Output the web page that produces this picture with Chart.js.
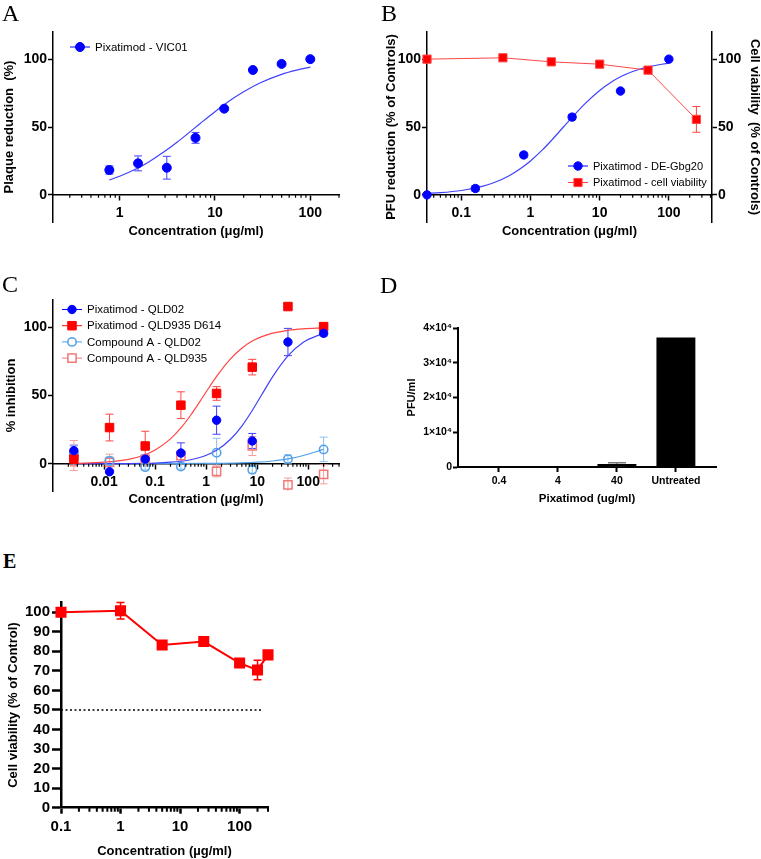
<!DOCTYPE html>
<html>
<head>
<meta charset="utf-8">
<title>Pixatimod antiviral activity</title>
<script src="https://cdn.jsdelivr.net/npm/chart.js@4.4.1/dist/chart.umd.min.js"></script>
<style>
  html, body { margin: 0; padding: 0; background: #fff; }
  #page { position: relative; width: 761px; height: 859px; overflow: hidden; }
  canvas { position: absolute; }
  .tag { position: absolute; font-family: 'Liberation Serif', 'Times New Roman', serif; font-size: 24px; line-height: 1; color: #000; }
</style>
</head>
<body>
<div id="page">
  <canvas id="chartA" width="380" height="270" style="left:0;top:0"></canvas>
  <canvas id="chartB" width="381" height="270" style="left:380px;top:0"></canvas>
  <canvas id="chartC" width="380" height="269" style="left:0;top:270px"></canvas>
  <canvas id="chartD" width="381" height="215" style="left:380px;top:300px"></canvas>
  <canvas id="chartE" width="380" height="279" style="left:0;top:580px"></canvas>
  <div class="tag" style="left:2px;top:1px">A</div>
  <div class="tag" style="left:381px;top:1px">B</div>
  <div class="tag" style="left:2px;top:272px">C</div>
  <div class="tag" style="left:380px;top:273px">D</div>
  <div class="tag" style="left:3px;top:551px;font-size:20px;font-weight:bold">E</div>
</div>
<script>
// A - plaque reduction, VIC01
const concA = [0.78, 1.56, 3.125, 6.25, 12.5, 25, 50, 100];
const plaqueA = [18.3, 23.2, 20, 42, 63.5, 92, 96.5, 100];
const plaqueErrA = [3, 5.5, 8.4, 4, 0, 0, 0, 0];
const fitConcA = [0.78, 1, 1.5, 2, 3, 4, 5, 7, 10, 15, 20, 30, 50, 70, 100];
const fitPlaqueA = [11, 13.7, 19.2, 24.1, 32.3, 38.8, 44.2, 52.6, 61.3, 70.4, 76, 82.6, 88.8, 91.7, 94.1];
const xTicksA = [1, 10, 100];

// B - PFU reduction DE-Gbg20 + cell viability
const concB = [0.032, 0.16, 0.8, 4, 20, 100];
const pfuB = [0, 4.7, 29.4, 57.3, 76.5, 100];
const pfuErrB = [0, 2, 2, 2, 0, 0];
const concViabB = [0.032, 0.4, 2, 10, 50, 250];
const viabB = [100, 101, 98, 96.3, 91.9, 55.6];
const viabErrB = [0, 0, 0, 0, 0, 9.5];
const fitConcB = [0.032, 0.05, 0.1, 0.2, 0.3, 0.5, 0.8, 1, 1.5, 2, 3, 4, 6, 10, 15, 20, 30, 50, 100];
const fitPfuB = [1.1, 1.6, 3.2, 6.3, 9.1, 14.3, 21.1, 25, 33.3, 40, 50, 57.1, 66.7, 76.9, 83.3, 87, 90.9, 94.3, 97.1];
const xTicksB = [0.1, 1, 10, 100];

// C - % inhibition, QLD02 / QLD935
const concC = [0.00256, 0.0128, 0.064, 0.32, 1.6, 8, 40, 200];
const pixQLD02 = [9.6, -5.9, 3.4, 7.8, 31.9, 16.7, 89.2, 95.6];
const pixQLD02Err = [4, 0, 3, 7.5, 10.3, 5.5, 10, 2];
const pixQLD935 = [3.4, 26.5, 13, 42.9, 51.5, 70.8, 115.2, 100.5];
const pixQLD935Err = [5, 9.8, 10.8, 9.8, 5, 5.7, 0, 1];
const cmpQLD02 = [7, 2, -2.5, -2, 8, -4.4, 3.4, 10.5];
const cmpQLD02Err = [6, 3, 2, 2, 10.6, 2.5, 3, 9];
const cmpQLD935 = [6, 1, 3, 6, -5.6, 13, -15.5, -7.8];
const cmpQLD935Err = [11, 6, 3, 3, 4, 7, 5, 7];
const fitConcC = [0.00256, 0.01, 0.03, 0.064, 0.1, 0.2, 0.32, 0.5, 0.9, 1.6, 3, 5, 8, 12, 20, 40, 80, 200];
const fitPixQLD935 = [0.3, 1.1, 3.2, 6.6, 10, 18.2, 26.2, 35.7, 50, 64, 76.9, 84.7, 89.9, 93, 95.7, 97.8, 98.9, 99.6];
const fitPixQLD02 = [0, 0, 0.1, 0.3, 0.5, 1.1, 1.8, 2.9, 5.5, 9.8, 17.9, 27.6, 39, 50, 63.7, 79, 89, 95.7];
const fitConcCmp = [0.00256, 0.1, 1, 5, 10, 20, 40, 80, 200];
const fitCmpQLD02 = [0, 0, 0.2, 0.6, 1.1, 2, 3.5, 6, 10.5];
const xTicksC = [0.01, 0.1, 1, 10, 100];

const yTicksPct = [0, 50, 100];

// D - PFU/ml bars
const doseD = ['0.4', '4', '40', 'Untreated'];
const pfuD = [0, 0, 850, 37300];
const pfuErrD = [0, 0, 400, 0];
const yTicksD = [0, 10000, 20000, 30000, 40000];
const yLabelsD = ['0', '1×10⁴', '2×10⁴', '3×10⁴', '4×10⁴'];

// E - cell viability
const concE = [0.1, 1, 5, 25, 100, 200, 300];
const viabE = [100, 100.8, 83.3, 85, 74, 70.5, 78.2];
const viabErrE = [0, 4.2, 1, 0.8, 2, 5, 1.7];
const cutoffConcE = [0.1, 250];
const cutoffE = [50, 50];
const xTicksE = [0.1, 1, 10, 100];
const yTicksE = [0, 10, 20, 30, 40, 50, 60, 70, 80, 90, 100];

const BLUE = '#0000ff', BLUE_FIT = '#4040ff';
const RED = '#ff0000', RED_FIT = '#ff4545';
const LBLUE = '#4f9fe8', LRED = '#f07878';
const FONT = "'Liberation Sans', Arial, sans-serif";

Chart.defaults.font.family = FONT;
Chart.defaults.color = '#000';
Chart.defaults.animation = false;
Chart.defaults.plugins.legend.display = false;
Chart.defaults.plugins.tooltip.enabled = false;

const bold = size => ({ size, weight: 'bold' });
const pts = (xs, ys) => xs.map((x, i) => ({ x, y: ys[i] }));

// error bars drawn under the markers
const errorBars = {
  id: 'errorBars',
  beforeDatasetsDraw(chart) {
    const ctx = chart.ctx, a = chart.chartArea;
    ctx.save();
    ctx.beginPath();
    ctx.rect(a.left - 10, a.top - 10, a.right - a.left + 20, a.bottom - a.top + 10);
    ctx.clip();
    chart.data.datasets.forEach((ds, i) => {
      if (!ds.errors) return;
      const meta = chart.getDatasetMeta(i);
      const ys = chart.scales[meta.yAxisID];
      const cap = ds.capWidth || 4;
      ctx.strokeStyle = ds.errorColor || ds.borderColor;
      ctx.lineWidth = ds.errorWidth || 1;
      ctx.beginPath();
      meta.data.forEach((el, j) => {
        const e = ds.errors[j];
        if (!e) return;
        const v = ds.data[j].y;
        const top = ys.getPixelForValue(v + e), bot = ys.getPixelForValue(v - e);
        ctx.moveTo(el.x, top); ctx.lineTo(el.x, bot);
        ctx.moveTo(el.x - cap, top); ctx.lineTo(el.x + cap, top);
        ctx.moveTo(el.x - cap, bot); ctx.lineTo(el.x + cap, bot);
      });
      ctx.stroke();
    });
    ctx.restore();
  }
};

// short ticks between the decades of a log axis
const minorTicks = {
  id: 'minorTicks',
  afterDraw(chart, args, opts) {
    const xs = chart.scales.x;
    if (xs.type !== 'logarithmic') return;
    const ctx = chart.ctx;
    const y0 = opts.atZero ? chart.scales.y.getPixelForValue(0) : chart.chartArea.bottom;
    ctx.save();
    ctx.strokeStyle = '#000';
    ctx.lineWidth = opts.width;
    ctx.beginPath();
    for (let d = Math.floor(Math.log10(xs.min)); d < Math.log10(xs.max); d++) {
      for (let m = 2; m < 10; m++) {
        const v = m * Math.pow(10, d);
        if (v <= xs.min * 1.001 || v > xs.max * 1.001) continue;
        const px = xs.getPixelForValue(v);
        ctx.moveTo(px, y0);
        ctx.lineTo(px, y0 + opts.len);
      }
    }
    ctx.stroke();
    ctx.restore();
  }
};

// Prism style legend inside the plot
const insetLegend = {
  id: 'insetLegend',
  afterDraw(chart, args, opts) {
    if (!opts.items) return;
    const ctx = chart.ctx;
    ctx.save();
    ctx.font = opts.size + 'px ' + FONT;
    ctx.textBaseline = 'middle';
    opts.items.forEach((idx, k) => {
      const ds = chart.data.datasets[idx];
      const y = opts.y + k * opts.row;
      ctx.strokeStyle = ds.borderColor;
      ctx.lineWidth = 1;
      ctx.beginPath(); ctx.moveTo(opts.x, y); ctx.lineTo(opts.x + 20, y); ctx.stroke();
      ctx.fillStyle = ds.legendFill || ds.backgroundColor;
      ctx.lineWidth = ds.borderWidth;
      Chart.helpers.drawPoint(ctx, { pointStyle: ds.pointStyle, radius: ds.pointRadius, borderWidth: ds.borderWidth, rotation: 0 }, opts.x + 10, y);
      ctx.fillStyle = '#000';
      ctx.fillText(ds.label, opts.x + 25, y + 0.5);
    });
    ctx.restore();
  }
};

function logAxis(min, max, ticks, title, s) {
  return {
    type: 'logarithmic', min, max,
    position: s.atZero ? { y: 0 } : 'bottom',
    afterBuildTicks: sc => { sc.ticks = ticks.map(v => ({ value: v })); },
    afterFit: sc => { sc.height = s.height; },
    ticks: { autoSkip: false, maxRotation: 0, padding: s.tickPad, font: bold(s.tickSize), callback: v => String(v) },
    grid: { drawOnChartArea: false, tickLength: s.tickLen, tickWidth: s.line, tickColor: '#000' },
    border: { color: '#000', width: s.line },
    title: { display: true, text: title, font: bold(13), padding: { top: 0, bottom: s.titlePad } }
  };
}

function valueAxis(min, max, ticks, title, s) {
  return {
    position: s.position || 'left', min, max,
    afterBuildTicks: sc => { sc.ticks = ticks.map(v => ({ value: v })); },
    afterFit: sc => { sc.width = s.width; },
    ticks: { autoSkip: false, padding: s.tickPad, font: bold(s.tickSize),
      callback: s.labels ? (v, i) => s.labels[i] : v => String(v) },
    grid: { drawOnChartArea: false, tickLength: s.tickLen, tickWidth: s.line, tickColor: '#000' },
    border: { color: '#000', width: s.line },
    title: { display: true, text: title, font: { size: s.titleSize || 13, weight: 'bold', lineHeight: 1 }, padding: { top: s.titlePad, bottom: 0 } }
  };
}

const xPct = { atZero: true, height: 48, tickPad: 5, tickSize: 14, tickLen: 5, line: 1.5, titlePad: 4 };
const yPct = { width: 53, tickPad: 1, tickSize: 14, tickLen: 5, line: 1.5, titlePad: 3 };

// A
new Chart(document.getElementById('chartA'), {
  type: 'scatter',
  data: { datasets: [
    { label: 'Pixatimod - VIC01', data: pts(concA, plaqueA), errors: plaqueErrA, errorColor: BLUE_FIT,
      pointStyle: 'circle', pointRadius: 4.5, backgroundColor: BLUE, borderColor: BLUE, borderWidth: 1, clip: 8 },
    { label: 'fit', data: pts(fitConcA, fitPlaqueA), showLine: true, pointRadius: 0, borderColor: BLUE_FIT,
      borderWidth: 1.2, cubicInterpolationMode: 'monotone' }
  ]},
  options: {
    responsive: false, devicePixelRatio: 1,
    layout: { padding: { top: 32, right: 41, left: 0, bottom: 48 } },
    scales: {
      x: logAxis(0.2, 200, xTicksA, 'Concentration (μg/ml)', xPct),
      y: valueAxis(-20, 120, yTicksPct, 'Plaque reduction  (%)', yPct)
    },
    plugins: {
      minorTicks: { atZero: true, len: 3, width: 1.2 },
      insetLegend: { x: 70, y: 47, row: 16, size: 11.5, items: [0] }
    }
  },
  plugins: [errorBars, minorTicks, insetLegend]
});

// B
new Chart(document.getElementById('chartB'), {
  type: 'scatter',
  data: { datasets: [
    { label: 'Pixatimod - DE-Gbg20', data: pts(concB, pfuB), errors: pfuErrB, errorColor: BLUE_FIT,
      pointStyle: 'circle', pointRadius: 4.2, backgroundColor: BLUE, borderColor: BLUE, borderWidth: 1, clip: 8 },
    { label: 'Pixatimod - cell viability', data: pts(concViabB, viabB), errors: viabErrB, yAxisID: 'y2',
      showLine: true, pointStyle: 'rect', pointRadius: 5.8, backgroundColor: RED, borderColor: RED_FIT,
      borderWidth: 1, clip: 8 },
    { label: 'fit', data: pts(fitConcB, fitPfuB), showLine: true, pointRadius: 0, borderColor: BLUE_FIT,
      borderWidth: 1.2, cubicInterpolationMode: 'monotone' }
  ]},
  options: {
    responsive: false, devicePixelRatio: 1,
    layout: { padding: { top: 32, right: 0, left: 0, bottom: 48 } },
    scales: {
      x: logAxis(0.032, 420, xTicksB, 'Concentration (μg/ml)', xPct),
      y: valueAxis(-20, 120, yTicksPct, 'PFU reduction (% of Controls)', { ...yPct, width: 47, titlePad: 5 }),
      y2: valueAxis(-20, 120, yTicksPct, 'Cell viability  (% of Controls)', { ...yPct, position: 'right', width: 49, titlePad: 0 })
    },
    plugins: {
      minorTicks: { atZero: true, len: 3, width: 1.2 },
      insetLegend: { x: 188, y: 166, row: 16.5, size: 11, items: [0, 1] }
    }
  },
  plugins: [errorBars, minorTicks, insetLegend]
});

// C
new Chart(document.getElementById('chartC'), {
  type: 'scatter',
  data: { datasets: [
    { label: 'Pixatimod - QLD02', data: pts(concC, pixQLD02), errors: pixQLD02Err, errorColor: BLUE_FIT,
      pointStyle: 'circle', pointRadius: 4.2, backgroundColor: BLUE, borderColor: BLUE, borderWidth: 1, clip: 8 },
    { label: 'Pixatimod - QLD935 D614', data: pts(concC, pixQLD935), errors: pixQLD935Err, errorColor: RED_FIT,
      pointStyle: 'rect', pointRadius: 6, backgroundColor: RED, borderColor: RED, borderWidth: 1, clip: 8 },
    { label: 'Compound A - QLD02', data: pts(concC, cmpQLD02), errors: cmpQLD02Err, errorColor: '#8cc0f0',
      pointStyle: 'circle', pointRadius: 4.2, backgroundColor: 'rgba(255,255,255,0)', legendFill: '#fff',
      borderColor: LBLUE, borderWidth: 1.5, clip: 8 },
    { label: 'Compound A - QLD935', data: pts(concC, cmpQLD935), errors: cmpQLD935Err, errorColor: '#f4a0a0',
      pointStyle: 'rect', pointRadius: 5.8, backgroundColor: 'rgba(255,255,255,0)', legendFill: '#fff',
      borderColor: LRED, borderWidth: 1.5, clip: 8 },
    { label: 'fit QLD935', data: pts(fitConcC, fitPixQLD935), showLine: true, pointRadius: 0, borderColor: RED_FIT,
      borderWidth: 1.2, cubicInterpolationMode: 'monotone' },
    { label: 'fit QLD02', data: pts(fitConcC, fitPixQLD02), showLine: true, pointRadius: 0, borderColor: BLUE_FIT,
      borderWidth: 1.2, cubicInterpolationMode: 'monotone' },
    { label: 'fit Compound A', data: pts(fitConcCmp, fitCmpQLD02), showLine: true, pointRadius: 0, borderColor: LBLUE,
      borderWidth: 1.2, cubicInterpolationMode: 'monotone' }
  ]},
  options: {
    responsive: false, devicePixelRatio: 1,
    layout: { padding: { top: 30, right: 41, left: 0, bottom: 48 } },
    scales: {
      x: logAxis(0.001, 400, xTicksC, 'Concentration (μg/ml)', xPct),
      y: valueAxis(-20, 120, yTicksPct, '% inhibition', { ...yPct, titlePad: 5 })
    },
    plugins: {
      minorTicks: { atZero: true, len: 3, width: 1.2 },
      insetLegend: { x: 62, y: 39.5, row: 16.2, size: 11.5, items: [0, 1, 2, 3] }
    }
  },
  plugins: [errorBars, minorTicks, insetLegend]
});

// D
new Chart(document.getElementById('chartD'), {
  type: 'bar',
  data: { datasets: [
    { label: 'PFU/ml', data: doseD.map((d, i) => ({ x: i, y: pfuD[i] })), errors: pfuErrD, errorColor: '#777',
      errorWidth: 1.5, capWidth: 9, backgroundColor: '#000', borderColor: '#000', borderWidth: 0,
      barPercentage: 0.66, categoryPercentage: 1 }
  ]},
  options: {
    responsive: false, devicePixelRatio: 1,
    layout: { padding: { top: 28, right: 45, left: 0, bottom: 0 } },
    scales: {
      x: {
        type: 'linear', min: -0.695, max: 3.68, offset: false,
        afterBuildTicks: sc => { sc.ticks = doseD.map((d, i) => ({ value: i })); },
        afterFit: sc => { sc.height = 48; },
        ticks: { autoSkip: false, maxRotation: 0, padding: 3, font: bold(10.5), callback: v => doseD[v] },
        grid: { offset: false, drawOnChartArea: false, tickLength: 5, tickWidth: 2, tickColor: '#000' },
        border: { color: '#000', width: 2 },
        title: { display: true, text: 'Pixatimod (ug/ml)', font: bold(11.5), padding: { top: 0, bottom: 9 } }
      },
      y: valueAxis(0, 40000, yTicksD, 'PFU/ml', { width: 78, tickPad: 1, tickSize: 10.5, tickLen: 5, line: 2,
        titlePad: 26, titleSize: 11, labels: yLabelsD })
    }
  },
  plugins: [errorBars]
});

// E
new Chart(document.getElementById('chartE'), {
  type: 'scatter',
  data: { datasets: [
    { label: 'Cell viability', data: pts(concE, viabE), errors: viabErrE, errorWidth: 1.5,
      showLine: true, pointStyle: 'rect', pointRadius: 6.4, backgroundColor: RED, borderColor: RED,
      borderWidth: 2, clip: 8 },
    { label: '50%', data: pts(cutoffConcE, cutoffE), showLine: true, pointRadius: 0, borderColor: '#000',
      borderWidth: 1.5, borderDash: [2, 2.5] }
  ]},
  options: {
    responsive: false, devicePixelRatio: 1,
    layout: { padding: { top: 22.5, right: 112, left: 0, bottom: 0 } },
    scales: {
      x: logAxis(0.1, 300, xTicksE, 'Concentration (µg/ml)',
        { atZero: false, height: 51.3, tickPad: 4, tickSize: 15, tickLen: 6, line: 2.5, titlePad: 0 }),
      y: valueAxis(0, 105, yTicksE, 'Cell viability (% of Control)',
        { width: 61, tickPad: 2, tickSize: 15, tickLen: 9, line: 2.5, titlePad: 7 })
    },
    plugins: {
      minorTicks: { atZero: false, len: 4, width: 2 }
    }
  },
  plugins: [errorBars, minorTicks]
});
</script>
</body>
</html>
